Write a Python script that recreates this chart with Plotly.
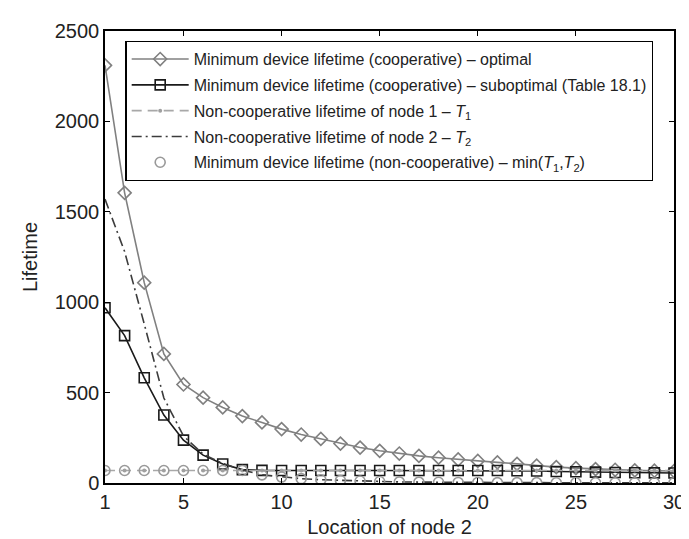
import plotly.graph_objects as go

location = list(range(1, 31))

coop_optimal = [2310, 1605, 1108, 714, 545, 472, 418, 370, 335, 298,
                268, 244, 218, 196, 178, 163, 150, 140, 130, 122,
                114, 106, 96, 88, 82, 77, 73, 70, 68, 66]

coop_suboptimal = [969, 815, 582, 376, 237, 154, 105, 74, 70, 69,
                   69, 69, 69, 69, 69, 69, 69, 69, 69, 69,
                   69, 68, 66, 64, 62, 60, 58, 57, 56, 55]

noncoop_T1 = [69] * 30

noncoop_T2 = [1570, 1280, 880, 470, 260, 160, 108, 72, 45, 33,
              24, 18, 14, 11, 8, 6, 5, 4, 3, 3,
              2, 2, 2, 1, 1, 1, 1, 1, 1, 1]

noncoop_min = [69, 69, 69, 69, 69, 69, 69, 69, 45, 33,
               24, 18, 14, 11, 8, 6, 5, 4, 3, 3,
               2, 2, 2, 1, 1, 1, 1, 1, 1, 1]

x_ticks = [1, 5, 10, 15, 20, 25, 30]
y_ticks = [0, 500, 1000, 1500, 2000, 2500]

names = [
    "Minimum device lifetime (cooperative) – optimal",
    "Minimum device lifetime (cooperative) – suboptimal (Table 18.1)",
    "Non-cooperative lifetime of node 1 – <i>T</i><sub>1</sub>",
    "Non-cooperative lifetime of node 2 – <i>T</i><sub>2</sub>",
    "Minimum device lifetime (non-cooperative) – min(<i>T</i><sub>1</sub>,<i>T</i><sub>2</sub>)",
]

fig = go.Figure()
fig.add_trace(go.Scatter(
    x=location, y=coop_optimal, name=names[0], mode="lines+markers",
    line=dict(color="#808080", width=1.6),
    marker=dict(symbol="diamond-open", size=10, color="#808080", line=dict(width=1.6)),
    legendgroup="a"))
fig.add_trace(go.Scatter(
    x=location, y=coop_suboptimal, name=names[1], mode="lines+markers",
    line=dict(color="#1a1a1a", width=1.6),
    marker=dict(symbol="square-open", size=10, color="#1a1a1a", line=dict(width=1.6)),
    legendgroup="b"))
fig.add_trace(go.Scatter(
    x=location, y=noncoop_T1, name=names[2], mode="lines+markers",
    line=dict(color="#a8a8a8", width=1.6, dash="10px,6px"),
    marker=dict(symbol="circle", size=4, color="#a0a0a0"),
    legendgroup="c"))
fig.add_trace(go.Scatter(
    x=location, y=noncoop_T2, name=names[3], mode="lines",
    line=dict(color="#3c3c3c", width=1.6, dash="10px,4px,2px,4px"),
    legendgroup="d"))
fig.add_trace(go.Scatter(
    x=location, y=noncoop_min, name=names[4], mode="markers",
    marker=dict(symbol="circle-open", size=10, color="#999999", line=dict(width=1.6)),
    legendgroup="e"))

axis_common = dict(
    showline=True, linecolor="black", linewidth=1.5, mirror="ticks",
    ticks="inside", ticklen=5, tickcolor="black", tickwidth=1,
    showgrid=False, zeroline=False,
    tickfont=dict(family="Liberation Sans, Arial", size=20, color="#222"),
)

fig.update_layout(
    width=689, height=539,
    margin=dict(l=97, r=12, t=15, b=63),
    paper_bgcolor="white", plot_bgcolor="white",
    font=dict(family="Liberation Sans, Arial", color="#222"),
    xaxis=dict(range=[1, 30], tickvals=x_ticks, ticktext=[str(v) for v in x_ticks],
               title=dict(text="Location of node 2", font=dict(size=20), standoff=8),
               **axis_common),
    yaxis=dict(range=[0, 2500], tickvals=y_ticks, ticktext=[str(v) for v in y_ticks],
               title=dict(text="Lifetime", font=dict(size=20), standoff=12),
               **axis_common),
    legend=dict(
        x=0.036, y=0.978, xanchor="left", yanchor="top",
        bgcolor="white", bordercolor="black", borderwidth=1.2,
        font=dict(family="Liberation Sans, Arial", size=16, color="#222"),
        itemwidth=57, tracegroupgap=2,
    ),
    showlegend=True,
)

fig.write_html("out.html")
